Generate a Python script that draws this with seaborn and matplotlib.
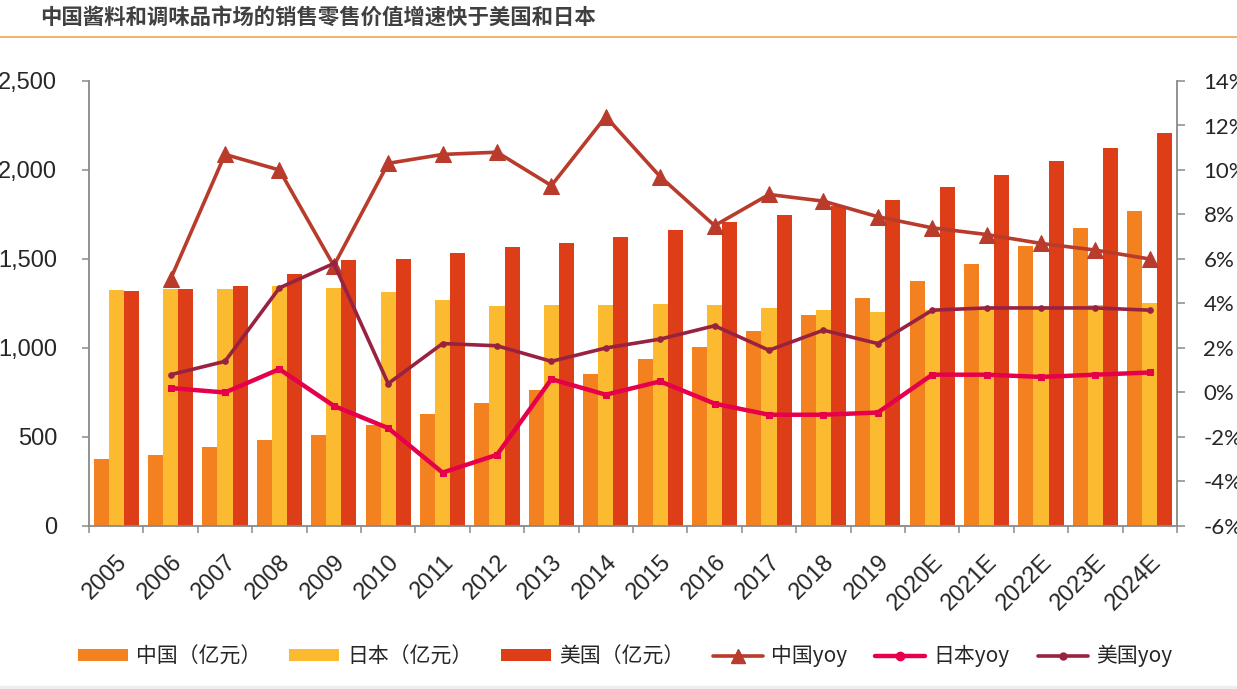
# seasoning market sales: China vs Japan vs US
import numpy as np
import pandas as pd
import seaborn as sns
import matplotlib.pyplot as plt
from matplotlib.lines import Line2D
from matplotlib.patches import Patch, Rectangle

years = ['2005', '2006', '2007', '2008', '2009', '2010', '2011', '2012', '2013', '2014',
         '2015', '2016', '2017', '2018', '2019', '2020E', '2021E', '2022E', '2023E', '2024E']

# 亿元
china = [376, 399, 442, 482, 514, 566, 627, 690, 762, 852,
         936, 1005, 1094, 1188, 1283, 1376, 1472, 1572, 1673, 1770]
japan = [1326, 1331, 1331, 1346, 1337, 1315, 1270, 1236, 1242, 1242,
         1247, 1242, 1225, 1213, 1202, 1212, 1222, 1231, 1241, 1252]
usa = [1320, 1331, 1348, 1414, 1494, 1500, 1534, 1567, 1590, 1624,
       1663, 1708, 1747, 1798, 1831, 1904, 1972, 2051, 2124, 2208]

# yoy in %, starting at 2006
china_yoy = [5.1, 10.7, 10.0, 5.7, 10.3, 10.7, 10.8, 9.3, 12.4, 9.7,
             7.5, 8.9, 8.6, 7.9, 7.4, 7.1, 6.7, 6.4, 6.0]
japan_yoy = [0.2, 0.0, 1.05, -0.6, -1.6, -3.6, -2.8, 0.6, -0.1, 0.5,
             -0.5, -1.0, -1.0, -0.9, 0.8, 0.8, 0.7, 0.8, 0.9]
usa_yoy = [0.8, 1.4, 4.7, 5.8, 0.4, 2.2, 2.1, 1.4, 2.0, 2.4,
           3.0, 1.9, 2.8, 2.2, 3.7, 3.8, 3.8, 3.8, 3.7]

bar_labels = ['中国（亿元）', '日本（亿元）', '美国（亿元）']
line_labels = ['中国yoy', '日本yoy', '美国yoy']
bar_colors = ['#F4811F', '#FBBA30', '#DD3E17']
line_colors = ['#B83B2B', '#E6004C', '#9A2241']

sns.set_style('ticks')
plt.rcParams['font.family'] = ['Noto Sans CJK SC', 'DejaVu Sans']
axis_grey = '#898989'

fig = plt.figure(figsize=(12.37, 6.89), dpi=100)
ax = fig.add_axes([89 / 1237, 1 - 526 / 689, 1088 / 1237, 445 / 689])

df = pd.DataFrame({
    'year': years * 3,
    'value': china + japan + usa,
    'country': [bar_labels[0]] * 20 + [bar_labels[1]] * 20 + [bar_labels[2]] * 20,
})
sns.barplot(data=df, x='year', y='value', hue='country', palette=bar_colors,
            width=0.83, saturation=1, linewidth=0, legend=False, ax=ax)

ax2 = ax.twinx()
idx = list(range(1, 20))
sns.lineplot(x=idx, y=china_yoy, ax=ax2, color=line_colors[0], linewidth=2.6,
             marker='^', markersize=12, markeredgecolor=line_colors[0])
sns.lineplot(x=idx, y=japan_yoy, ax=ax2, color=line_colors[1], linewidth=3.2,
             marker='s', markersize=5, markeredgecolor=line_colors[1])
sns.lineplot(x=idx, y=usa_yoy, ax=ax2, color=line_colors[2], linewidth=2.6,
             marker='o', markersize=4, markeredgecolor=line_colors[2])

ax.set_xlim(-0.5, 19.5)
ax.set_ylim(0, 2500)
ax2.set_ylim(-6, 14)
ax.set_xlabel('')
ax.set_ylabel('')
ax2.set_ylabel('')

# left axis
ax.set_yticks(range(0, 2501, 500))
ax.set_yticklabels([f'{v:,}' for v in range(0, 2501, 500)],
                   fontsize=17, family='Liberation Sans')
ax.tick_params(axis='y', length=5, width=1.1, color=axis_grey, pad=18)

# right axis
ax2.set_yticks(range(-6, 15, 2))
ax2.set_yticklabels([f'{v}%' for v in range(-6, 15, 2)], fontsize=16, family='Lato')
ax2.tick_params(axis='y', length=6, width=1.1, color=axis_grey, pad=13)

# x axis: labels at centres, tick marks between groups
ax.set_xticks(range(20))
ax.set_xticklabels(years, rotation=45, ha='right', va='top', rotation_mode='anchor',
                   fontsize=17, family='Liberation Sans')
ax.set_xticks(np.arange(-0.5, 20, 1), minor=True)
ax.tick_params(axis='x', which='major', length=0, pad=18)
ax.tick_params(axis='x', which='minor', length=5, width=1.1, color=axis_grey)

for a in (ax, ax2):
    a.spines['top'].set_visible(False)
    for s in a.spines.values():
        s.set_color(axis_grey)
        s.set_linewidth(1.3)
ax.spines['right'].set_visible(False)
ax2.spines['left'].set_visible(False)
ax2.spines['bottom'].set_visible(False)

# title and rule
fig.text(40 / 1237, 1 - 18 / 689, '中国酱料和调味品市场的销售零售价值增速快于美国和日本',
         fontsize=15.4, color='#404040', weight='bold', va='center', ha='left')
fig.add_artist(Line2D([0, 1], [1 - 37 / 689] * 2, color='#F5A34B', lw=1.2,
                      transform=fig.transFigure))
fig.add_artist(Rectangle((0, 0), 1, 3 / 689, color='#EEEEEE', transform=fig.transFigure))

# legend
handles = [Patch(facecolor=c, edgecolor='none') for c in bar_colors]
handles += [
    Line2D([], [], color=line_colors[0], lw=2.6, marker='^', markersize=10),
    Line2D([], [], color=line_colors[1], lw=3.2, marker='o', markersize=6),
    Line2D([], [], color=line_colors[2], lw=2.6, marker='o', markersize=5),
]
fig.legend(handles, bar_labels + line_labels, loc='center',
           bbox_to_anchor=(625 / 1237, 1 - 656 / 689), ncol=6, frameon=False,
           fontsize=15, handlelength=2.4, handleheight=0.48, handletextpad=0.4,
           columnspacing=1.35)

fig.savefig('out.png', dpi=100)
